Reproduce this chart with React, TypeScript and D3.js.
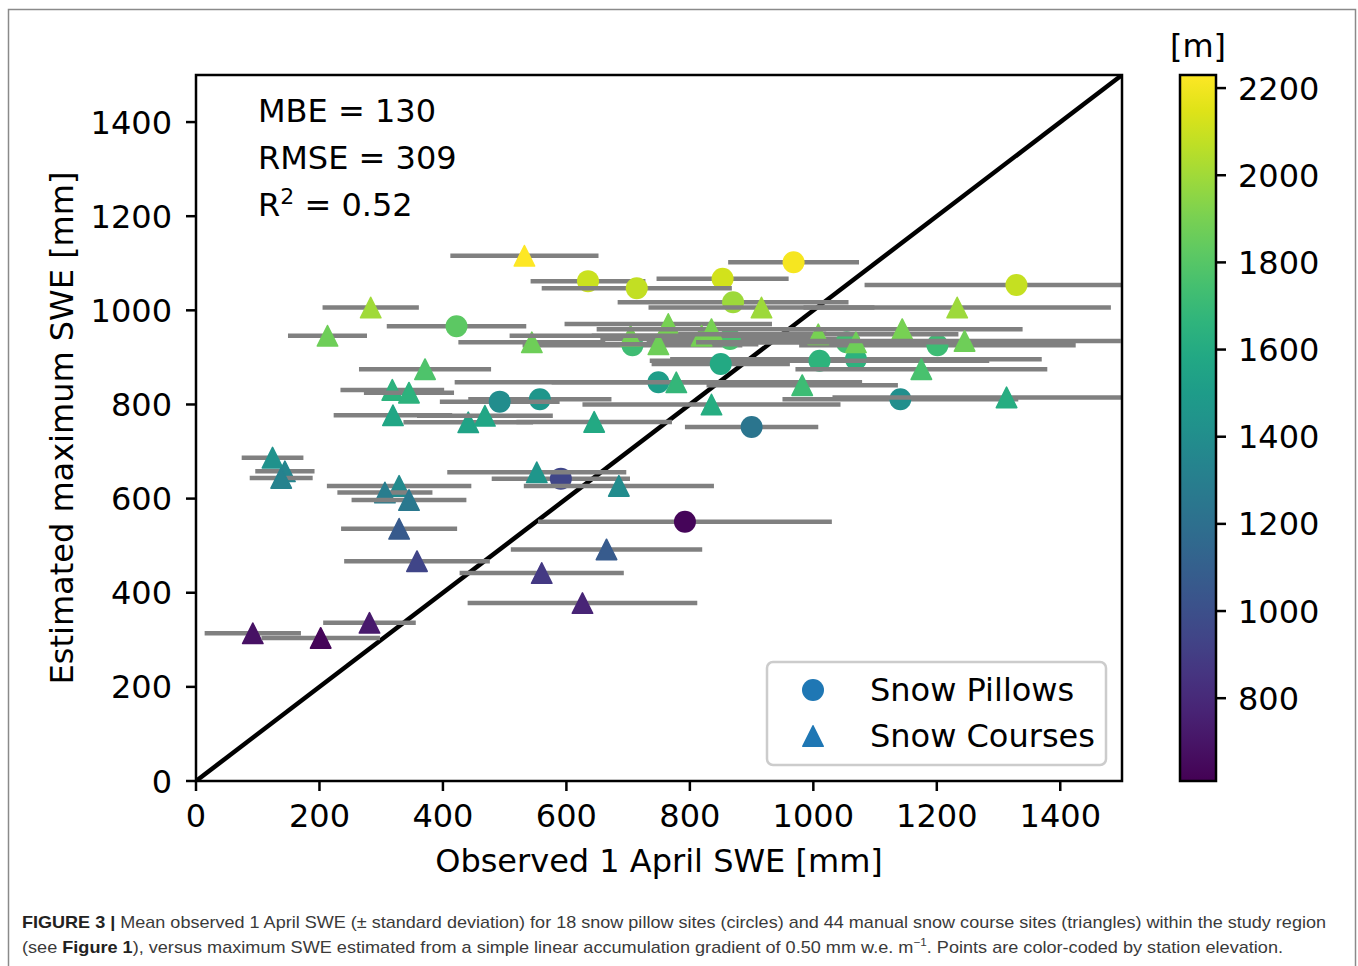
import React from 'react';
import * as d3 from 'd3';

// ---- Data: snow pillows (circles) ----
const pillowObs = [968, 853, 635, 714, 1329, 870, 422, 707, 865, 1054, 1201, 1069, 1010, 850, 749, 557, 492, 1141, 900, 591, 792];
const pillowEst = [1102, 1067, 1062, 1047, 1054, 1017, 966, 926, 939, 932, 926, 896, 893, 886, 847, 811, 806, 811, 752, 642, 551];
const pillowSd = [106, 107, 93, 154, 246, 187, 113, 178, 210, 324, 224, 301, 275, 112, 330, 116, 97, 191, 108, 112, 238];
const pillowElev = [2210, 2120, 2100, 2080, 2090, 1990, 1820, 1730, 1760, 1740, 1720, 1650, 1660, 1590, 1510, 1460, 1400, 1410, 1240, 950, 630];

// ---- Data: snow courses (triangles) ----
const courseObs = [532, 283, 213, 544, 704, 749, 765, 819, 835, 916, 1008, 1069, 1144, 1233, 1245, 1175, 371, 318, 345, 778, 982, 1313, 835, 319, 441, 468, 645, 124, 144, 138, 552, 685, 329, 306, 345, 329, 665, 358, 560, 626, 281, 92, 202];
const courseEst = [1116, 1006, 946, 932, 946, 928, 971, 946, 960, 1006, 949, 932, 960, 1006, 935, 875, 875, 831, 825, 847, 841, 815, 800, 777, 762, 776, 763, 687, 658, 644, 656, 627, 627, 613, 597, 536, 492, 467, 442, 378, 336, 314, 304];
const courseSd = [120, 78, 64, 119, 196, 162, 168, 178, 186, 183, 227, 259, 195, 249, 253, 204, 107, 84, 73, 202, 155, 282, 209, 96, 105, 110, 126, 50, 48, 51, 145, 154, 117, 77, 93, 94, 155, 118, 133, 186, 75, 78, 96];
const courseElev = [2225, 2000, 1870, 1870, 1890, 1870, 1900, 1890, 1900, 1990, 1900, 1870, 1900, 1990, 1870, 1760, 1780, 1650, 1650, 1680, 1720, 1620, 1610, 1570, 1550, 1570, 1590, 1430, 1350, 1330, 1460, 1390, 1380, 1290, 1260, 1060, 1070, 940, 880, 775, 720, 680, 630];

// ---- Axis ticks / labels ----
const axisTicks = [0, 200, 400, 600, 800, 1000, 1200, 1400];
const elevTicks = [800, 1000, 1200, 1400, 1600, 1800, 2000, 2200];
const elevRange = [610, 2230];
const axisMax = 1500;
const statLines = ['MBE = 130', 'RMSE = 309'];
const r2Value = '0.52';
const legendLabels = ['Snow Pillows', 'Snow Courses'];

const FONT = '"DejaVu Sans", Verdana, sans-serif';
const CAP_FONT = '"Liberation Sans", Arial, sans-serif';

export default function App() {
  const left = 196, right = 1122, top = 75, bottom = 781;
  const x = d3.scaleLinear().domain([0, axisMax]).range([left, right]);
  const y = d3.scaleLinear().domain([0, axisMax]).range([bottom, top]);
  const color = d3.scaleSequential(d3.interpolateViridis).domain(elevRange);

  const cbL = 1180, cbR = 1216;
  const cy = d3.scaleLinear().domain(elevRange).range([bottom, top]);

  const triPath = (s: number) => {
    const h = s / 2;
    return `M0,${-h}L${h},${h}L${-h},${h}Z`;
  };

  const gradStops = d3.range(0, 1.0001, 0.05);

  const fs = 32;

  return (
    <svg width={1358} height={966} style={{ position: 'absolute', left: 0, top: 0, background: '#fff' }}>
      <defs>
        <linearGradient id="cbar" x1="0" y1="1" x2="0" y2="0">
          {gradStops.map((t) => (
            <stop key={t} offset={t} stopColor={d3.interpolateViridis(t)} />
          ))}
        </linearGradient>
        <clipPath id="plotClip">
          <rect x={left} y={top} width={right - left} height={bottom - top} />
        </clipPath>
      </defs>
      <rect x={0} y={0} width={1358} height={966} fill="#fff" />
      {/* outer frame */}
      <path d="M8.5,980V9.5H1355.5V980" fill="none" stroke="#8a8a8a" strokeWidth={1.5} />

      {/* data */}
      <g clipPath="url(#plotClip)">
        <line x1={x(0)} y1={y(0)} x2={x(axisMax)} y2={y(axisMax)} stroke="#000" strokeWidth={4.5} />
        {pillowObs.map((v, i) => (
          <g key={'p' + i}>
            <line x1={x(v - pillowSd[i])} x2={x(v + pillowSd[i])} y1={y(pillowEst[i])} y2={y(pillowEst[i])} stroke="#808080" strokeWidth={4.5} />
            <circle cx={x(v)} cy={y(pillowEst[i])} r={11} fill={color(pillowElev[i])} />
          </g>
        ))}
        {courseObs.map((v, i) => (
          <g key={'c' + i}>
            <line x1={x(v - courseSd[i])} x2={x(v + courseSd[i])} y1={y(courseEst[i])} y2={y(courseEst[i])} stroke="#808080" strokeWidth={4.5} />
            <path d={triPath(20.5)} transform={`translate(${x(v)},${y(courseEst[i])})`} fill={color(courseElev[i])} stroke={color(courseElev[i])} strokeWidth={1.5} strokeLinejoin="round" />
          </g>
        ))}
      </g>

      {/* axes frame */}
      <rect x={left} y={top} width={right - left} height={bottom - top} fill="none" stroke="#000" strokeWidth={2.5} />

      {/* x ticks */}
      {axisTicks.map((t) => (
        <g key={'xt' + t}>
          <line x1={x(t)} x2={x(t)} y1={bottom} y2={bottom + 10} stroke="#000" strokeWidth={2.5} />
          <text x={x(t)} y={bottom + 46} textAnchor="middle" fontFamily={FONT} fontSize={fs} fill="#000">{t}</text>
        </g>
      ))}
      {/* y ticks */}
      {axisTicks.map((t) => (
        <g key={'yt' + t}>
          <line x1={left - 10} x2={left} y1={y(t)} y2={y(t)} stroke="#000" strokeWidth={2.5} />
          <text x={left - 24} y={y(t) + 11.5} textAnchor="end" fontFamily={FONT} fontSize={fs} fill="#000">{t}</text>
        </g>
      ))}

      <text x={(left + right) / 2} y={872} textAnchor="middle" fontFamily={FONT} fontSize={fs} fill="#000">Observed 1 April SWE [mm]</text>
      <text transform={`translate(73,${(top + bottom) / 2}) rotate(-90)`} textAnchor="middle" fontFamily={FONT} fontSize={fs} fill="#000">Estimated maximum SWE [mm]</text>

      {/* stats */}
      {statLines.map((s, i) => (
        <text key={s} x={258} y={122 + i * 47} fontFamily={FONT} fontSize={fs} fill="#000">{s}</text>
      ))}
      <text x={258} y={216} fontFamily={FONT} fontSize={fs} fill="#000">
        R<tspan dy={-12} fontSize={22}>2</tspan><tspan dy={12}> = {r2Value}</tspan>
      </text>

      {/* legend */}
      <rect x={767} y={662} width={339} height={103} rx={6} fill="#fff" fillOpacity={0.85} stroke="#cccccc" strokeWidth={2.5} />
      <circle cx={813} cy={690} r={11} fill="#1f77b4" />
      <path d={triPath(20.5)} transform="translate(813,736)" fill="#1f77b4" stroke="#1f77b4" strokeWidth={1.5} strokeLinejoin="round" />
      {legendLabels.map((l, i) => (
        <text key={l} x={870} y={701 + i * 46} fontFamily={FONT} fontSize={fs} fill="#000">{l}</text>
      ))}

      {/* colorbar */}
      <rect x={cbL} y={top} width={cbR - cbL} height={bottom - top} fill="url(#cbar)" />
      <rect x={cbL} y={top} width={cbR - cbL} height={bottom - top} fill="none" stroke="#000" strokeWidth={2.5} />
      {elevTicks.map((t) => (
        <g key={'ct' + t}>
          <line x1={cbR} x2={cbR + 10} y1={cy(t)} y2={cy(t)} stroke="#000" strokeWidth={2.5} />
          <text x={cbR + 22} y={cy(t) + 11.5} fontFamily={FONT} fontSize={fs} fill="#000">{t}</text>
        </g>
      ))}
      <text x={1198} y={57} textAnchor="middle" fontFamily={FONT} fontSize={fs} fill="#000">[m]</text>

      {/* caption */}
      <text x={22} y={928} fontFamily={CAP_FONT} fontSize={17} fill="#3a3a3a" textLength={1304} lengthAdjust="spacingAndGlyphs">
        <tspan fontWeight="bold" fill="#222">FIGURE 3 | </tspan>
        Mean observed 1 April SWE (± standard deviation) for 18 snow pillow sites (circles) and 44 manual snow course sites (triangles) within the study region
      </text>
      <text x={22} y={953} fontFamily={CAP_FONT} fontSize={17} fill="#3a3a3a" textLength={1261} lengthAdjust="spacingAndGlyphs">
        (see <tspan fontWeight="bold" fill="#222">Figure 1</tspan>), versus maximum SWE estimated from a simple linear accumulation gradient of 0.50 mm w.e. m<tspan dy={-7} fontSize={11}>−1</tspan><tspan dy={7}>. Points are color-coded by station elevation.</tspan>
      </text>
    </svg>
  );
}
